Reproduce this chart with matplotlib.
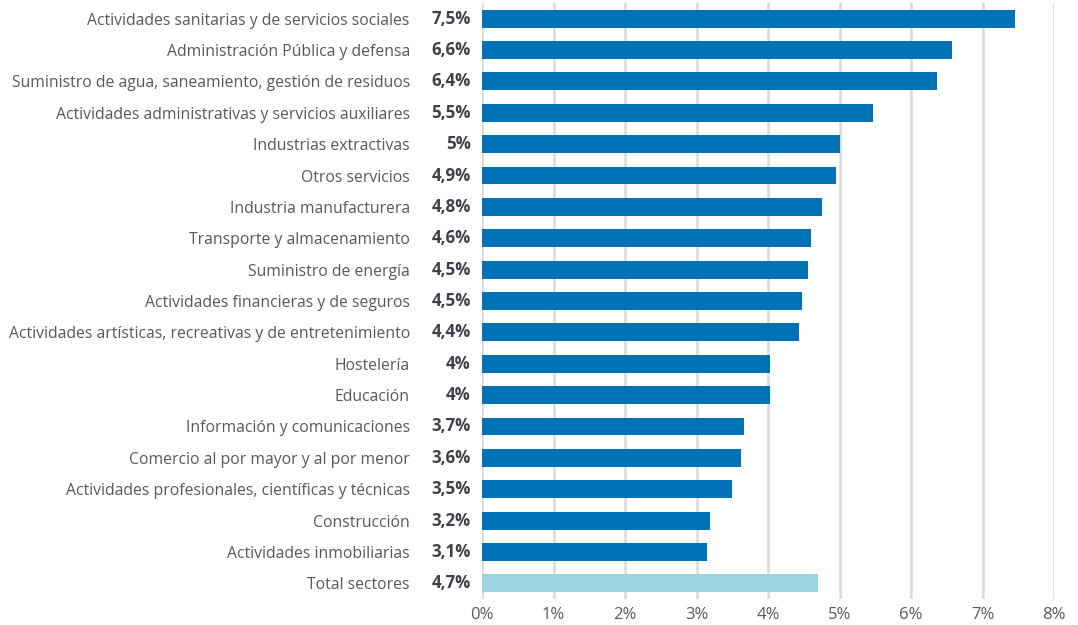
import matplotlib
matplotlib.use("Agg")
import matplotlib.pyplot as plt
from matplotlib.ticker import FuncFormatter

categories = [
    "Actividades sanitarias y de servicios sociales",
    "Administración Pública y defensa",
    "Suministro de agua, saneamiento, gestión de residuos",
    "Actividades administrativas y servicios auxiliares",
    "Industrias extractivas",
    "Otros servicios",
    "Industria manufacturera",
    "Transporte y almacenamiento",
    "Suministro de energía",
    "Actividades financieras y de seguros",
    "Actividades artísticas, recreativas y de entretenimiento",
    "Hostelería",
    "Educación",
    "Información y comunicaciones",
    "Comercio al por mayor y al por menor",
    "Actividades profesionales, científicas y técnicas",
    "Construcción",
    "Actividades inmobiliarias",
    "Total sectores",
]
values = [7.45, 6.57, 6.37, 5.47, 5.00, 4.95, 4.75, 4.60, 4.56, 4.47,
          4.43, 4.03, 4.03, 3.67, 3.62, 3.50, 3.19, 3.14, 4.70]
value_labels = ["7,5%", "6,6%", "6,4%", "5,5%", "5%", "4,9%", "4,8%", "4,6%",
                "4,5%", "4,5%", "4,4%", "4%", "4%", "3,7%", "3,6%", "3,5%",
                "3,2%", "3,1%", "4,7%"]
xticks = [0, 1, 2, 3, 4, 5, 6, 7, 8]

plt.rcParams['font.family'] = ['Open Sans', 'DejaVu Sans']

W, H = 1078, 625
fig = plt.figure(figsize=(W / 100, H / 100), dpi=100)
ax = fig.add_axes([482 / W, 1 - 599 / H, (1054 - 482) / W, (599 - 3) / H])

main_color = "#0072B5"
total_color = "#9DD4E0"
colors = [main_color] * (len(categories) - 1) + [total_color]

ypos = list(range(len(categories)))
ax.barh(ypos, values, height=0.57, color=colors, zorder=3)
ax.set_ylim(len(categories) - 0.5, -0.5)
ax.set_xlim(0, 8)
ax.set_xticks(xticks)
ax.xaxis.set_major_formatter(FuncFormatter(lambda v, p: f"{int(v)}%"))
ax.grid(axis='x', color="#D9D9D9", linewidth=1.8, zorder=0)
ax.set_axisbelow(True)
for s in ax.spines.values():
    s.set_visible(False)

ax.set_yticks(ypos)
ax.set_yticklabels(categories)
ax.tick_params(axis='y', length=0, pad=52, labelsize=11.3, labelcolor="#595959")
ax.tick_params(axis='x', length=0, pad=6, labelsize=12, labelcolor="#595959")

for i, lab in enumerate(value_labels):
    ax.annotate(lab, xy=(0, i), xycoords=('axes fraction', 'data'),
                xytext=(-8, 0), textcoords='offset points',
                ha='right', va='center', fontsize=12.2, fontweight='bold',
                color="#404048")

fig.savefig("out.png", dpi=100)
